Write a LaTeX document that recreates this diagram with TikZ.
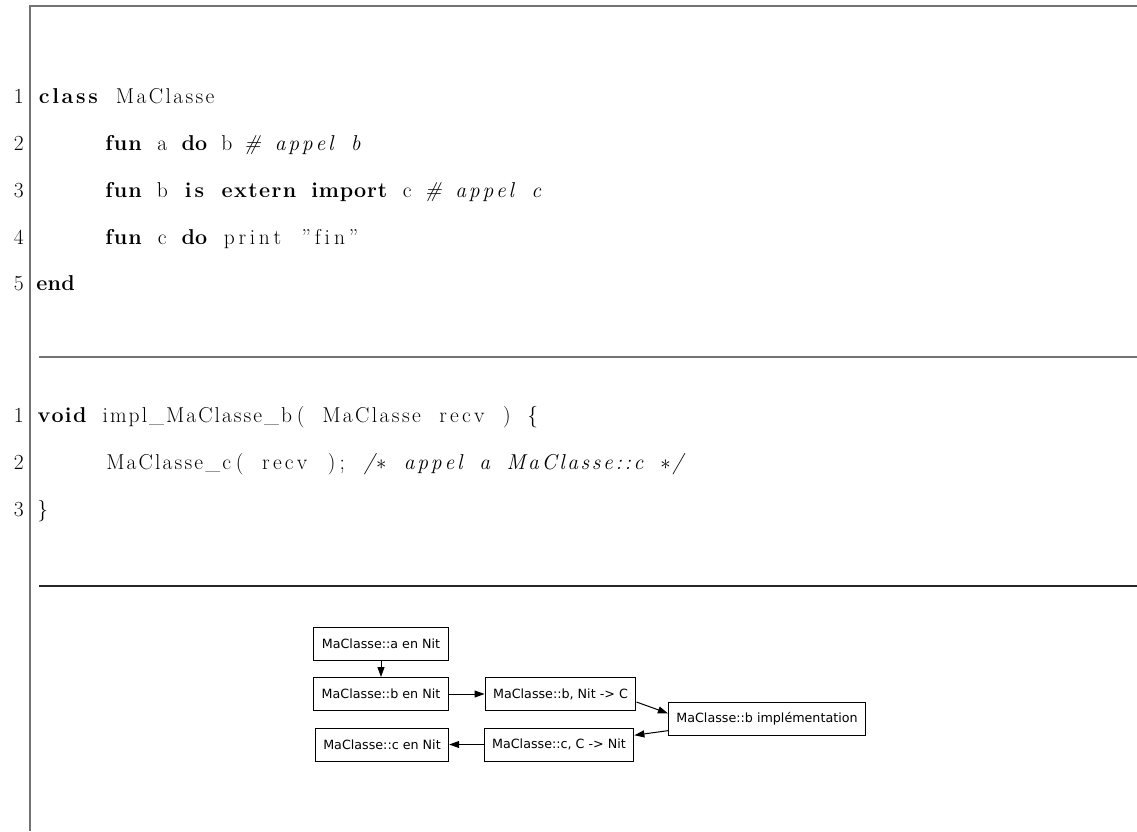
\documentclass[tikz,border=0pt]{standalone}
\usepackage{fontspec}
\newfontfamily\dejavu{DejaVu Sans}
\usetikzlibrary{arrows.meta}

\definecolor{framegray}{gray}{0.45}

% fixed columns, as a listing would set them
\newlength\cw \setlength\cw{12.9pt}
\newcount\nitn
\makeatletter
\newcommand\cols[1]{\nitn=0\relax\@tfor\nit@ch:=#1\do{\advance\nitn by 1\relax}%
  \hbox to \nitn\cw{\@tfor\nit@ch:=#1\do{\hss\nit@ch}\hss}}
\makeatother
\newcommand\kw[1]{{\bfseries\cols{#1}}}
\newcommand\id[1]{\cols{#1}}
\newcommand\cm[1]{{\itshape\cols{#1}}}
\newcommand\sk{\hspace*{\cw}}

\tikzset{
  code/.style={anchor=base west, inner sep=0pt, font=\fontsize{21.5}{26}\selectfont},
  lnum/.style={anchor=base east, inner sep=0pt, font=\fontsize{21.5}{26}\selectfont},
  frame/.style={draw=framegray, line width=2pt},
  sep/.style={draw=black!85, line width=1.5pt},
  box/.style={draw, line width=1pt, inner xsep=8pt, minimum height=33pt,
    font=\dejavu\fontsize{12.7}{15}\selectfont},
  edge/.style={-{Triangle[length=10pt,width=7pt]}, line width=1pt},
}

\begin{document}
\begin{tikzpicture}[x=1pt,y=-1pt]
\useasboundingbox (0,0) rectangle (1137,831);

\draw[frame] (1137,6) -- (30,6) -- (30,831);
\draw[frame] (39,357) -- (1137,357);
\draw[sep] (39,586) -- (1137,586);

% Nit source
\foreach \i/\y in {1/103,2/150,3/197,4/244,5/290}
  \node[lnum] (na\i) at (24,\y) {\i};
\node[code] (nit1) at (36,103) {\kw{class}\sk\id{MaClasse}};
\node[code] (nit2) at (104,150) {\kw{fun}\sk\id{a}\sk\kw{do}\sk\id{b}\sk\cm{\#}\sk\cm{appel}\sk\cm{b}};
\node[code] (nit3) at (104,197) {\kw{fun}\sk\id{b}\sk\kw{is}\sk\kw{extern}\sk\kw{import}\sk\id{c}\sk\cm{\#}\sk\cm{appel}\sk\cm{c}};
\node[code] (nit4) at (104,244) {\kw{fun}\sk\id{c}\sk\kw{do}\sk\id{print}\sk\id{{''}fin{''}}};
\node[code] (nit5) at (36,290) {\kw{end}};

% C source
\foreach \i/\y in {1/422,2/469,3/516}
  \node[lnum] (nc\i) at (24,\y) {\i};
\node[code] (c1) at (36,422) {\kw{void}\sk\id{impl\textunderscore MaClasse\textunderscore b}\id{(}\sk\id{MaClasse}\sk\id{recv}\sk\id{)}\sk\id{\{}};
\node[code] (c2) at (104,469) {\id{MaClasse\textunderscore c}\id{(}\sk\id{recv}\sk\id{);}\sk\cm{/{$\ast$}}\sk\cm{appel}\sk\cm{a}\sk\cm{MaClasse::c}\sk\cm{{$\ast$}/}};
\node[code] (c3) at (36,516) {\id{\}}};

% call graph
\node[box] (anit) at (381,643.5) {MaClasse::a en Nit};
\node[box] (bnit) at (381,694) {MaClasse::b en Nit};
\node[box] (bnitc) at (560.5,694) {MaClasse::b, Nit -> C};
\node[box] (bimpl) at (767,718.5) {MaClasse::b implémentation};
\node[box] (cnit) at (382,744.5) {MaClasse::c en Nit};
\node[box] (ccnit) at (559,744.5) {MaClasse::c, C -> Nit};

\draw[edge] (anit) -- (bnit);
\draw[edge] (bnit) -- (bnitc);
\draw[edge] (bnitc.-6) -- (bimpl.177);
\draw[edge] (bimpl.187) -- (ccnit.7);
\draw[edge] (ccnit) -- (cnit);
\end{tikzpicture}
\end{document}
